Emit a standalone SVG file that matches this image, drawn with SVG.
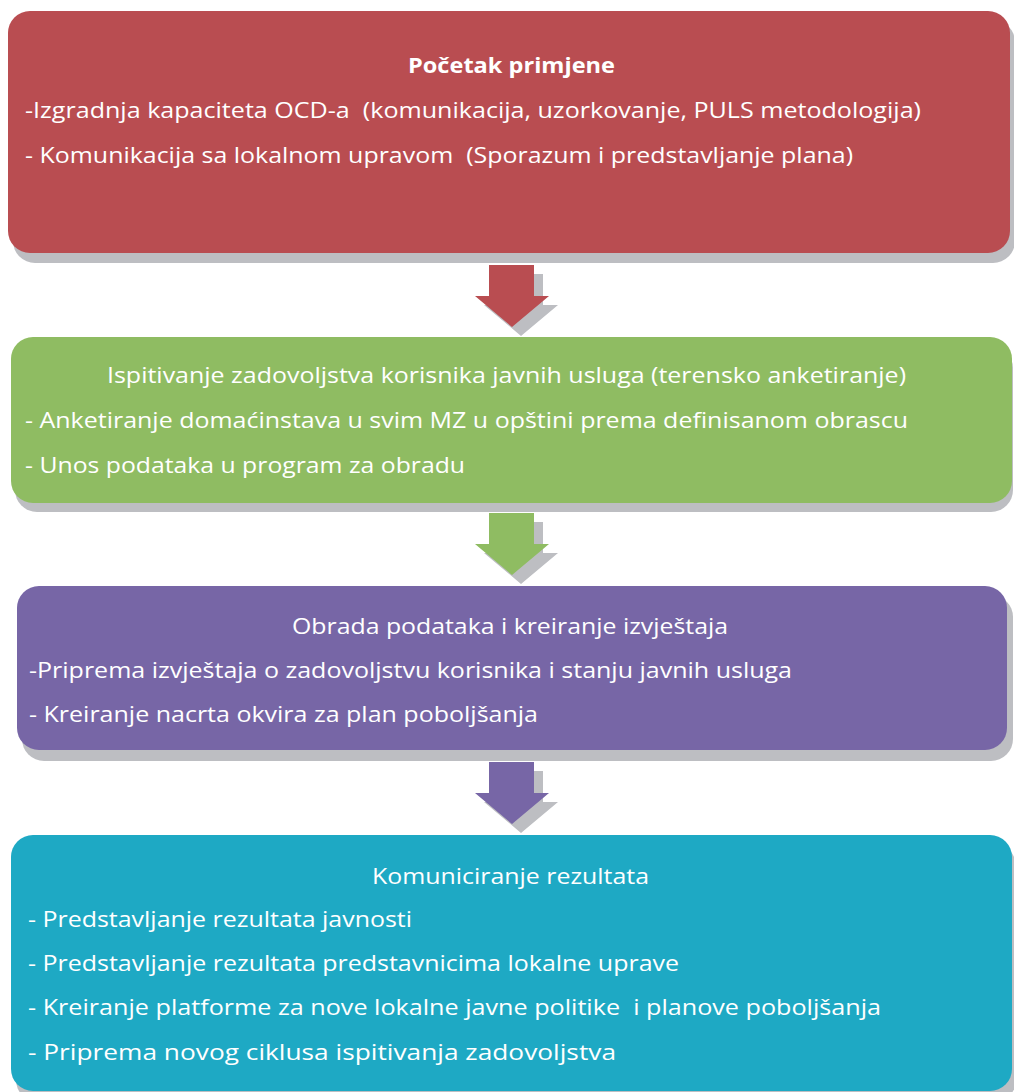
<svg xmlns="http://www.w3.org/2000/svg" width="1014" height="1092" viewBox="0 0 1014 1092">
<style>
.sh{fill:#BDBEC2}
.t{font-family:"Open Sans","Liberation Sans",sans-serif;font-size:22px;fill:#FFFFFF;white-space:pre}
.b{font-weight:bold}
</style>
<rect width="1014" height="1092" fill="#FFFFFF"/>
<g id="connectors">
  <polygon class="sh" points="498,274 543,274 543,305 558,305 521,336 484,305 498,305"/>
  <polygon fill="#B94D51" points="489,265 534,265 534,296 549,296 512,327 475,296 489,296"/>
  <polygon class="sh" points="498,522 543,522 543,553 558,553 521,584 484,553 498,553"/>
  <polygon fill="#8FBC62" points="489,513 534,513 534,544 549,544 512,575 475,544 489,544"/>
  <polygon class="sh" points="498,771 543,771 543,802 558,802 521,833 484,802 498,802"/>
  <polygon fill="#7766A6" points="489,762 534,762 534,793 549,793 512,824 475,793 489,793"/>
</g>
<g id="node1">
  <rect class="sh" x="13" y="20" width="1002" height="243" rx="22"/>
  <rect x="8" y="11" width="1002" height="242" rx="22" fill="#B94D51"/>
  <text class="t b" x="408" y="73" textLength="207" lengthAdjust="spacingAndGlyphs">Početak primjene</text>
  <text class="t" x="25" y="118" textLength="896" lengthAdjust="spacingAndGlyphs">-Izgradnja kapaciteta OCD-a  (komunikacija, uzorkovanje, PULS metodologija)</text>
  <text class="t" x="25" y="163" textLength="828" lengthAdjust="spacingAndGlyphs">- Komunikacija sa lokalnom upravom  (Sporazum i predstavljanje plana)</text>
</g>
<g id="node2">
  <rect class="sh" x="15" y="346" width="998" height="166" rx="22"/>
  <rect x="11" y="337" width="1001" height="166" rx="22" fill="#8FBC62"/>
  <text class="t" x="107" y="383" textLength="799" lengthAdjust="spacingAndGlyphs">Ispitivanje zadovoljstva korisnika javnih usluga (terensko anketiranje)</text>
  <text class="t" x="25" y="428" textLength="883" lengthAdjust="spacingAndGlyphs">- Anketiranje domaćinstava u svim MZ u opštini prema definisanom obrascu</text>
  <text class="t" x="25" y="473" textLength="440" lengthAdjust="spacingAndGlyphs">- Unos podataka u program za obradu</text>
</g>
<g id="node3">
  <rect class="sh" x="22" y="595" width="991" height="166" rx="22"/>
  <rect x="17" y="586" width="990" height="164" rx="22" fill="#7766A6"/>
  <text class="t" x="292" y="634" textLength="436" lengthAdjust="spacingAndGlyphs">Obrada podataka i kreiranje izvještaja</text>
  <text class="t" x="29" y="678" textLength="763" lengthAdjust="spacingAndGlyphs">-Priprema izvještaja o zadovoljstvu korisnika i stanju javnih usluga</text>
  <text class="t" x="29" y="722" textLength="509" lengthAdjust="spacingAndGlyphs">- Kreiranje nacrta okvira za plan poboljšanja</text>
</g>
<g id="node4">
  <rect class="sh" x="16" y="844" width="1000" height="258" rx="22"/>
  <rect x="11" y="835" width="1001" height="256" rx="22" fill="#1EA9C4"/>
  <text class="t" x="372" y="884" textLength="277" lengthAdjust="spacingAndGlyphs">Komuniciranje rezultata</text>
  <text class="t" x="28" y="927" textLength="384" lengthAdjust="spacingAndGlyphs">- Predstavljanje rezultata javnosti</text>
  <text class="t" x="28" y="971" textLength="651" lengthAdjust="spacingAndGlyphs">- Predstavljanje rezultata predstavnicima lokalne uprave</text>
  <text class="t" x="28" y="1015" textLength="853" lengthAdjust="spacingAndGlyphs">- Kreiranje platforme za nove lokalne javne politike  i planove poboljšanja</text>
  <text class="t" x="28" y="1060" textLength="588" lengthAdjust="spacingAndGlyphs">- Priprema novog ciklusa ispitivanja zadovoljstva</text>
</g>
</svg>
